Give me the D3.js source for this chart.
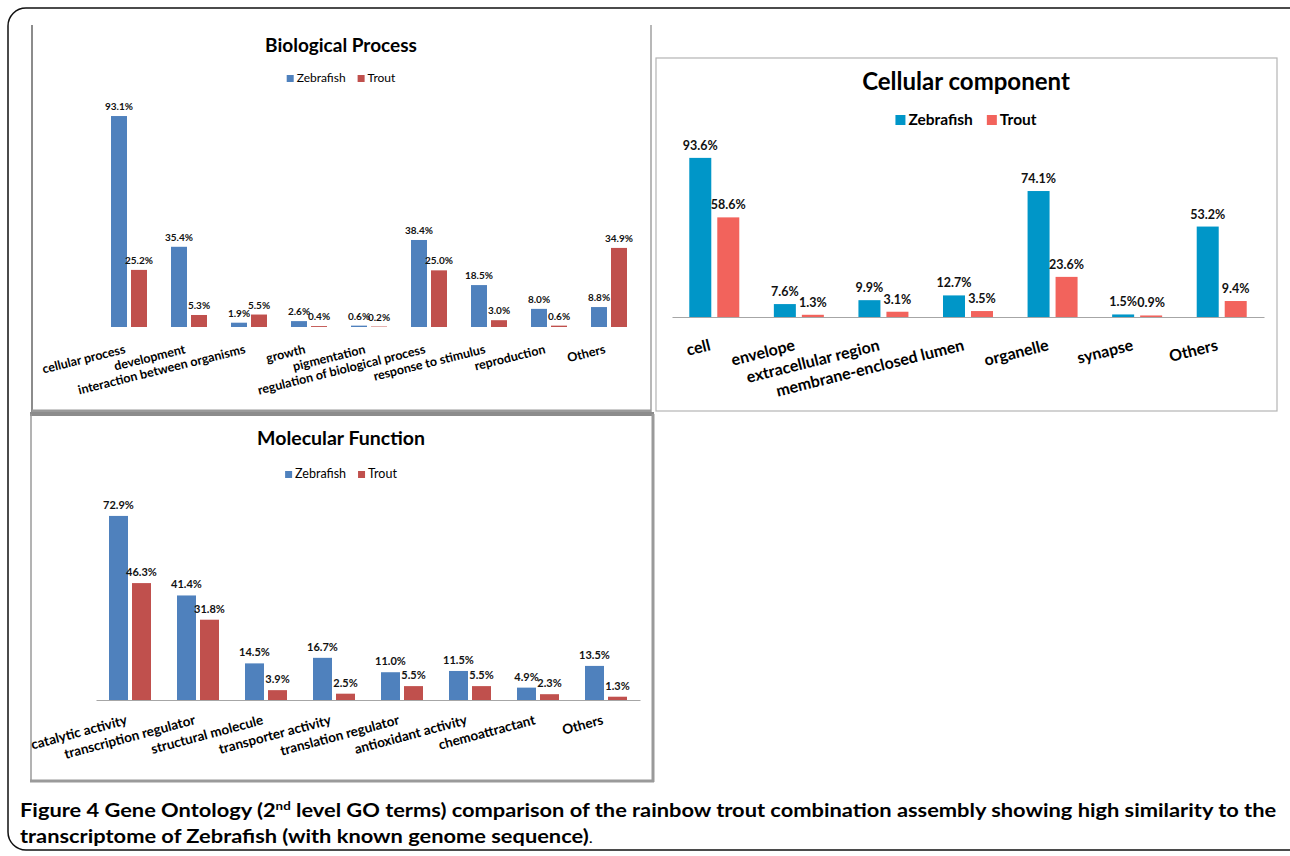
<!DOCTYPE html>
<html>
<head>
<meta charset="utf-8">
<script src="https://cdn.jsdelivr.net/npm/d3@7"></script>
<style>
  body { margin: 0; background: #fff; }
  svg { display: block; font-family: Lato, "Open Sans", sans-serif; }
</style>
</head>
<body>
<svg id="fig" width="1290" height="856"></svg>
<script>

// series shared by all three panels
var seriesNames = ["Zebrafish", "Trout"];

// Biological Process
var bpCategories = ["cellular process", "development", "interaction between organisms", "growth",
	"pigmentation", "regulation of biological process", "response to stimulus", "reproduction", "Others"];
var bpZebrafish = [93.1, 35.4, 1.9, 2.6, 0.6, 38.4, 18.5, 8.0, 8.8];
var bpTrout = [25.2, 5.3, 5.5, 0.4, 0.2, 25.0, 3.0, 0.6, 34.9];

// Cellular component
var ccCategories = ["cell", "envelope", "extracellular region", "membrane-enclosed lumen",
	"organelle", "synapse", "Others"];
var ccZebrafish = [93.6, 7.6, 9.9, 12.7, 74.1, 1.5, 53.2];
var ccTrout = [58.6, 1.3, 3.1, 3.5, 23.6, 0.9, 9.4];

// Molecular Function
var mfCategories = ["catalytic activity", "transcription regulator", "structural molecule",
	"transporter activity", "translation regulator", "antioxidant activity", "chemoattractant", "Others"];
var mfZebrafish = [72.9, 41.4, 14.5, 16.7, 11.0, 11.5, 4.9, 13.5];
var mfTrout = [46.3, 31.8, 3.9, 2.5, 5.5, 5.5, 2.3, 1.3];


var svg = d3.select("#fig");

// outer rounded frame of the figure
svg.append("rect")
	.attr("x", 8).attr("y", 8)
	.attr("width", 1320).attr("height", 842)
	.attr("rx", 18)
	.attr("fill", "none")
	.attr("stroke", "#111")
	.attr("stroke-width", 1.5);


function drawPanel(o) {
	var g = svg.append("g");

	// title
	g.append("text")
		.attr("x", o.cx).attr("y", o.titleY)
		.attr("text-anchor", "middle")
		.attr("font-weight", "bold")
		.attr("font-size", o.titleSize)
		.attr("fill", "#000")
		.text(o.title);

	// legend, centred under the title
	var leg = g.append("g");
	var xx = 0;
	seriesNames.forEach(function(name, i) {
		leg.append("rect")
			.attr("x", xx).attr("y", -o.legSq)
			.attr("width", o.legSq).attr("height", o.legSq)
			.attr("fill", o.colors[i]);
		var t = leg.append("text")
			.attr("x", xx + o.legSq + 3).attr("y", 0)
			.attr("font-size", o.legSize)
			.attr("font-weight", o.legWeight)
			.attr("fill", "#000")
			.text(name);
		xx += o.legSq + 3 + t.node().getComputedTextLength() + o.legGap;
	});
	xx -= o.legGap;
	leg.attr("transform", "translate(" + (o.cx - xx / 2) + "," + (o.legY + 1) + ")");

	// scales
	var xScale = d3.scaleBand().domain(o.categories).range([o.x0, o.x1]);
	var inner = d3.scaleBand().domain(seriesNames)
		.range([0, 2 * o.barW + o.gap])
		.paddingInner(o.gap / (o.barW + o.gap));
	var yScale = d3.scaleLinear().domain([0, 100]).range([o.baseY, o.baseY - o.px100]);

	// axis (gray line, rotated category labels)
	var ax = g.append("g")
		.attr("transform", "translate(0," + o.baseY + ")")
		.call(d3.axisBottom(xScale).tickSize(0).tickSizeOuter(0));
	ax.select(".domain")
		.attr("stroke", o.axisLine ? "#a6a6a6" : "none")
		.attr("stroke-width", 1.2);
	ax.selectAll(".tick text")
		.attr("x", 0).attr("y", 0).attr("dy", 0)
		.attr("text-anchor", "end")
		.attr("font-family", "Lato, 'Open Sans', sans-serif")
		.attr("font-size", o.catSize)
		.attr("font-weight", "bold")
		.attr("fill", "#000")
		.attr("transform", "translate(" + (-o.catDx) + "," + o.catDy + ") rotate(" + o.angle + ")");

	// bars + value labels
	var series = [o.zeb, o.trout];
	series.forEach(function(vals, si) {
		var name = seriesNames[si];
		g.selectAll(".bar" + si)
			.data(vals)
			.enter()
			.append("rect")
			.attr("x", function(d, i) { return xScale(o.categories[i]) + xScale.bandwidth() / 2 - inner.range()[1] / 2 + inner(name); })
			.attr("y", function(d) { return yScale(d); })
			.attr("width", inner.bandwidth())
			.attr("height", function(d) { return o.baseY - yScale(d); })
			.attr("fill", o.colors[si]);

		g.selectAll(".lab" + si)
			.data(vals)
			.enter()
			.append("text")
			.attr("x", function(d, i) { return xScale(o.categories[i]) + xScale.bandwidth() / 2 - inner.range()[1] / 2 + inner(name) + inner.bandwidth() / 2; })
			.attr("y", function(d) { return yScale(d) - o.labGap; })
			.attr("text-anchor", "middle")
			.attr("font-size", o.labSize)
			.attr("font-weight", "bold")
			.attr("fill", "#111")
			.text(function(d) { return d.toFixed(1) + "%"; });
	});
}


// panel frames
function line(x1, y1, x2, y2, col, w) {
	svg.append("line")
		.attr("x1", x1).attr("y1", y1).attr("x2", x2).attr("y2", y2)
		.attr("stroke", col).attr("stroke-width", w);
}
// Biological Process frame
line(32, 25, 32, 412, "#8c8c8c", 2);
line(651, 25, 651, 412, "#a0a0a0", 1.5);
line(32, 411, 651, 411, "#9a9a9a", 3);
// Cellular component frame
svg.append("rect")
	.attr("x", 656).attr("y", 58).attr("width", 621).attr("height", 353)
	.attr("fill", "none").attr("stroke", "#b4b4b4").attr("stroke-width", 1.2);
// Molecular Function frame
line(30, 414, 654, 414, "#8c8c8c", 4);
line(31, 414, 31, 782, "#9a9a9a", 1.5);
line(653, 414, 653, 782, "#9a9a9a", 3);
line(30, 781, 654, 781, "#9a9a9a", 3);


drawPanel({
	title: "Biological Process", cx: 341, titleY: 52, titleSize: 19,
	legY: 81, legSq: 7, legSize: 12, legWeight: "normal", legGap: 12,
	categories: bpCategories, zeb: bpZebrafish, trout: bpTrout,
	colors: ["#4f81bd", "#c0504d"],
	x0: 99, x1: 639, baseY: 327, px100: 226.6, barW: 16, gap: 4,
	labSize: 10, labGap: 6,
	catSize: 12.5, catDx: 3, catDy: 26, angle: -14, axisLine: false
});

drawPanel({
	title: "Cellular component", cx: 966, titleY: 90, titleSize: 24,
	legY: 124, legSq: 10, legSize: 15.5, legWeight: "bold", legGap: 14,
	categories: ccCategories, zeb: ccZebrafish, trout: ccTrout,
	colors: ["#0096c8", "#f2635c"],
	x0: 672, x1: 1264, baseY: 317, px100: 170, barW: 22, gap: 6,
	labSize: 12.5, labGap: 8,
	catSize: 16, catDx: 3, catDy: 33, angle: -14, axisLine: true
});

drawPanel({
	title: "Molecular Function", cx: 341, titleY: 445, titleSize: 19.5,
	legY: 477, legSq: 7, legSize: 12.5, legWeight: "normal", legGap: 12,
	categories: mfCategories, zeb: mfZebrafish, trout: mfTrout,
	colors: ["#4f81bd", "#c0504d"],
	x0: 96, x1: 640, baseY: 700, px100: 252.5, barW: 19, gap: 4,
	labSize: 11, labGap: 7,
	catSize: 13.5, catDx: 2, catDy: 24, angle: -15, axisLine: true
});


// caption
var cap1 = svg.append("text")
	.attr("font-size", 18)
	.attr("font-weight", "bold")
	.attr("fill", "#000");
cap1.append("tspan").text("Figure 4 Gene Ontology (2");
cap1.append("tspan").attr("font-size", 11).attr("dy", -7).text("nd");
cap1.append("tspan").attr("dy", 7)
	.text(" level GO terms) comparison of the rainbow trout combination assembly showing high similarity to the");

var cap2 = svg.append("text")
	.attr("font-size", 18)
	.attr("font-weight", "bold")
	.attr("fill", "#000");
cap2.append("tspan").text("transcriptome of Zebrafish (with known genome sequence)");
cap2.append("tspan").attr("font-weight", "normal").attr("font-size", 14).text(".");

// squeeze both lines the same amount so line 1 fills the frame width
var sx = (1277 - 20) / cap1.node().getComputedTextLength();
cap1.attr("transform", "translate(20,817) scale(" + sx + ",1)");
cap2.attr("transform", "translate(20,843) scale(" + sx + ",1)");

</script>
</body>
</html>
